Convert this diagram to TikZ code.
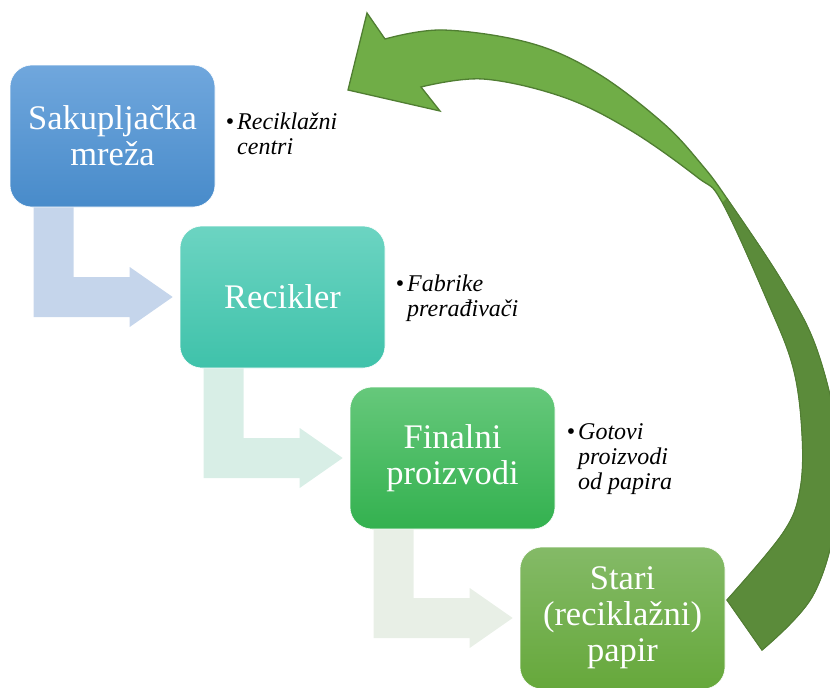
\documentclass[tikz,border=0pt]{standalone}
\usepackage{fontspec}
\setmainfont{LiberationSerif}[Extension=.ttf, UprightFont=*-Regular,
  ItalicFont=*-Italic, BoldFont=*-Bold, BoldItalicFont=*-BoldItalic]
\usetikzlibrary{calc}

\definecolor{collectTop}{HTML}{70A7DD}
\definecolor{collectBot}{HTML}{488BCA}
\definecolor{recycTop}{HTML}{6CD4C2}
\definecolor{recycBot}{HTML}{3FC2AA}
\definecolor{finalTop}{HTML}{66C87B}
\definecolor{finalBot}{HTML}{33B14F}
\definecolor{oldTop}{HTML}{84BA67}
\definecolor{oldBot}{HTML}{66A83B}
\definecolor{flowA}{HTML}{C5D5EB}
\definecolor{flowB}{HTML}{D8EEE6}
\definecolor{flowC}{HTML}{E8EFE6}
\definecolor{loopLight}{HTML}{70AD47}
\definecolor{loopEdge}{HTML}{507E32}
\definecolor{loopDark}{HTML}{5B8B3A}

% bent block arrow from the bottom of one stage to the left side of the next
\newcommand\flowarrow[3]{%
  \fill[#3] let \p1=($(#1.south west)+(24,0)$), \p2=($(#2.west)+(-7,0)$) in
    (\x1,\y1) -- (\x1+40pt,\y1) -- (\x1+40pt,\y2+20pt) -- (\x2-43pt,\y2+20pt)
    -- (\x2-43pt,\y2+30pt) -- (\x2,\y2) -- (\x2-43pt,\y2-30pt)
    -- (\x2-43pt,\y2-20pt) -- (\x1,\y2-20pt) -- cycle;}

% outline of the large curved return arrow
\newcommand\returnoutline{%
  (385,39) -- plot[smooth,tension=0.6] coordinates {(385,39) (443,30) (530,43)
    (597,73) (663,123) (702,165) (728,200) (783,283) (817,350) (838,440)
    (836,520) (812,597) (762,650)}
  -- (727,600)
  -- plot[smooth,tension=0.6] coordinates {(727,600) (783,533) (800,490)
    (802,433) (793,367) (767,300) (722,202) (697,177) (630,130) (563,97)
    (483,79) (421,87)}
  -- (440,111) -- (348,90) -- (367,13) -- cycle}

\begin{document}
\begin{tikzpicture}[x=1pt,y=-1pt,
  stage/.style={rounded corners=22pt, minimum width=205pt, minimum height=142pt,
    align=center, text=white, inner sep=0pt, draw=white, line width=0.6pt,
    font=\fontsize{34.5}{36}\selectfont},
  note/.style={anchor=north west, align=left, inner sep=0pt,
    font=\fontsize{24}{25}\selectfont\itshape}]
\path[use as bounding box] (0,0) rectangle (830,688);
\clip (0,0) rectangle (830,688);

% process stages
\node[stage, top color=collectTop, bottom color=collectBot] (collect) at (112.5,136) {Sakupljačka\\mreža};
\node[stage, top color=recycTop, bottom color=recycBot] (recycler) at (282.5,297) {Recikler};
\node[stage, top color=finalTop, bottom color=finalBot] (final) at (452.5,458) {Finalni\\proizvodi};
\node[stage, top color=oldTop, bottom color=oldBot] (oldpaper) at (622.5,618) {Stari\\(reciklažni)\\papir};

% bent arrows between stages
\flowarrow{collect}{recycler}{flowA}
\flowarrow{recycler}{final}{flowB}
\flowarrow{final}{oldpaper}{flowC}

% side notes
\node[note] (n1) at (237,113) {\llap{\upshape\textbullet\hspace{3pt}}Reciklažni\\centri};
\node[note] (n2) at (407,275) {\llap{\upshape\textbullet\hspace{3pt}}Fabrike\\prerađivači};
\node[note] (n3) at (578,423) {\llap{\upshape\textbullet\hspace{3pt}}Gotovi\\proizvodi\\od papira};

% large return arrow, lighter near the head and darker on the far side
\path[fill=loopLight, draw=loopEdge, line width=1.3pt, line join=miter] \returnoutline;
\begin{scope}
  \clip (420,505) -- (1030,-105) -- (1100,800) -- (300,800) -- cycle;
  \path[fill=loopDark, draw=loopDark!90!black, line width=0.8pt] \returnoutline;
\end{scope}
\end{tikzpicture}
\end{document}
